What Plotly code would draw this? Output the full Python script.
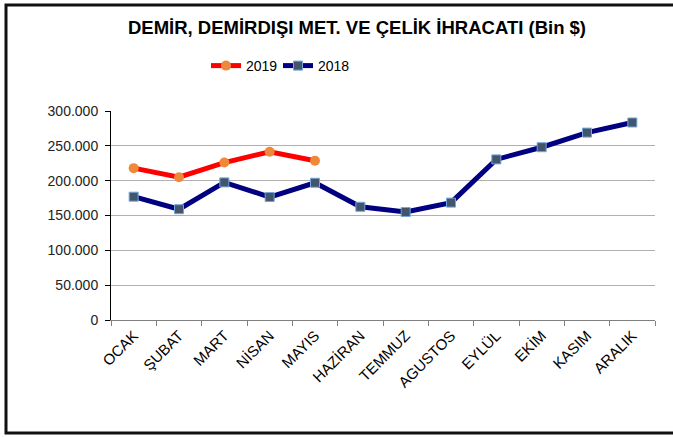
import plotly.graph_objects as go

months = ["OCAK", "ŞUBAT", "MART", "NİSAN", "MAYIS", "HAZİRAN", "TEMMUZ",
          "AGUSTOS", "EYLÜL", "EKİM", "KASIM", "ARALIK"]
values_2019 = [218000, 205000, 226000, 241500, 228500]
values_2018 = [177000, 159000, 197500, 176500, 197000, 162500, 155000,
               168500, 230500, 248000, 269000, 283500]
y_ticks = [0, 50000, 100000, 150000, 200000, 250000, 300000]

W, H = 673, 437
L, R, T, B = 111, 655, 111, 320


def px(x):
    return (x - L) / (R - L)


def py(y):
    return (B - y) / (B - T)


fig = go.Figure()
fig.add_trace(go.Scatter(
    x=months[:len(values_2019)], y=values_2019, name="2019", mode="lines+markers",
    line=dict(color="#FF0000", width=5),
    marker=dict(symbol="circle", size=10, color="#F0883A", line=dict(width=0)),
    legend="legend",
))
fig.add_trace(go.Scatter(
    x=months, y=values_2018, name="2018", mode="lines+markers",
    line=dict(color="#000080", width=5),
    marker=dict(symbol="square", size=9, color="#44546A",
                line=dict(width=1, color="#6FA8DC")),
    legend="legend2",
))

leg_common = dict(yanchor="middle", y=py(66), xanchor="left",
                  font=dict(size=14, color="#000000"),
                  bgcolor="rgba(0,0,0,0)", itemwidth=30)
fig.update_layout(
    width=W, height=H,
    margin=dict(l=L, r=W - R, t=T, b=H - B, autoexpand=False),
    paper_bgcolor="white", plot_bgcolor="white",
    separators=",.",
    font=dict(family="Liberation Sans, Arial, sans-serif", color="#000000"),
    title=dict(text="<b>DEMİR, DEMİRDIŞI MET. VE ÇELİK İHRACATI (Bin $)</b>",
               x=357 / W, xanchor="center", y=1 - 28 / H, yanchor="middle",
               font=dict(size=18.5, color="#000000")),
    showlegend=True,
    legend=dict(x=px(206), **leg_common),
    legend2=dict(x=px(278), **leg_common),
    xaxis=dict(type="category", categoryorder="array", categoryarray=months,
               range=[-0.5, 11.5], tickson="boundaries", ticks="outside",
               ticklen=5, tickcolor="#808080", showline=True,
               linecolor="#808080", linewidth=1, showgrid=False,
               tickangle=-45, tickfont=dict(size=15, color="#000000")),
    yaxis=dict(range=[0, 300000], tickvals=y_ticks, tickformat=",.0f",
               ticks="outside", ticklen=5, tickcolor="#000000", showline=True,
               linecolor="#000000", linewidth=1, showgrid=True,
               gridcolor="#B0B0B0", gridwidth=1, zeroline=False,
               ticklabelstandoff=4,
               tickfont=dict(size=14, color="#222222")),
    shapes=[
        dict(type="rect", xref="paper", yref="paper", x0=px(6), x1=px(700),
             y0=py(433), y1=py(5), line=dict(color="#111111", width=3),
             fillcolor="rgba(0,0,0,0)", layer="above"),
    ],
)

fig.write_html(
    "out.html",
    config={"displayModeBar": False},
    post_script="document.body.style.margin='0';"
                "document.documentElement.style.overflow='hidden';"
                "document.body.style.overflow='hidden';",
)
